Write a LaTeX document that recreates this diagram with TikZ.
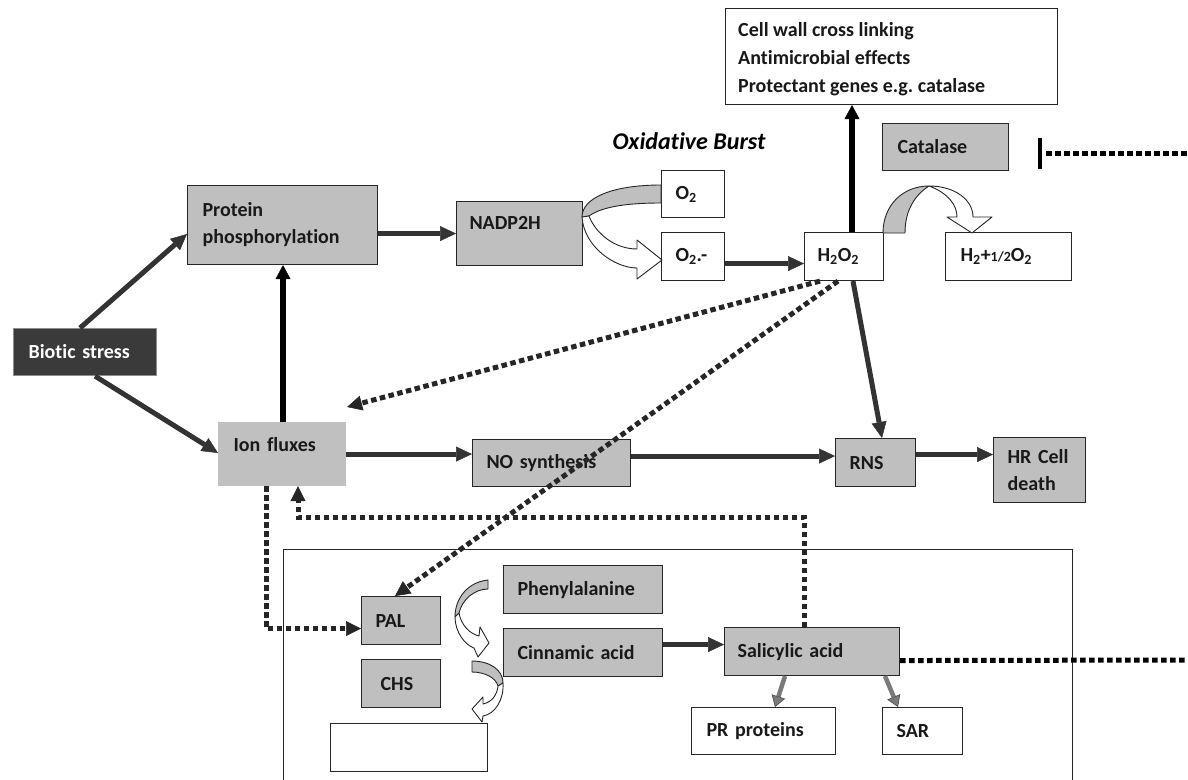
\documentclass[tikz,border=0pt]{standalone}
\usepackage{fontspec}
\setmainfont{Carlito}[Ligatures=NoCommon]
\usetikzlibrary{arrows.meta,calc}
\definecolor{boxgray}{HTML}{BFBFBF}
\definecolor{iongray}{HTML}{C0C0C0}
\definecolor{biodark}{HTML}{3A3A3A}
\definecolor{arrdark}{HTML}{333333}
\definecolor{dotdark}{HTML}{262626}
\definecolor{sagray}{HTML}{7A7A7A}
\newcommand\lblfont{\fontsize{20}{27}\selectfont\bfseries\frenchspacing}
\begin{document}
\begin{tikzpicture}[x=1pt,y=-1pt,
  bx/.style={draw=black!85, line width=1.1pt, anchor=north west, inner xsep=14pt,
    inner ysep=0pt, align=left, font=\lblfont, text=black!90},
  gbx/.style={bx, fill=boxgray},
  wbx/.style={bx, fill=white},
  sz/.style n args={3}{minimum width=#1pt, minimum height=#2pt, text width=#3pt},
  darr/.style={draw=arrdark, line width=5pt,
    -{Triangle[length=16pt,width=15pt,line width=0.5pt]}},
  karr/.style={draw=black, line width=5.5pt,
    -{Triangle[length=14pt,width=15pt,line width=0.5pt]}},
  garr/.style={draw=sagray, line width=4.5pt,
    -{Triangle[length=11pt,width=14pt,line width=0.6pt,fill=sagray,color=black!70]}},
  dots/.style={draw=dotdark, line width=5pt, dash pattern=on 5.5pt off 3.5pt},
  dotsarr/.style={dots, -{Triangle[length=15pt,width=15pt,line width=0.5pt]}},
  ribbon/.style={draw=black!85, line width=0.9pt, line join=round},
]
\useasboundingbox (0,0) rectangle (1188,779);

% frame around the salicylic acid pathway
\node[wbx, line width=0.8pt, sz={789}{260}{761}] (sabox) at (283,549) {};

% boxes
\node[wbx, sz={332}{96}{306}, inner xsep=13pt] (effects) at (725,8) {};
\node[anchor=west, align=left, inner sep=0pt, text=black!90,
      font=\fontsize{20}{28}\selectfont\bfseries\frenchspacing] (effectstext)
  at ([xshift=13pt,yshift=-3pt]effects.west)
  {Cell wall cross linking\\Antimicrobial effects\\Protectant genes e.g. catalase};
\node[font=\fontsize{24}{28}\selectfont\bfseries\itshape] (burst) at (689,141) {Oxidative Burst};
\node[gbx, sz={126}{47}{96}, inner xsep=15pt] (catalase) at (882,123) {Catalase};
\node[gbx, sz={190}{79}{160}, inner xsep=15pt] (prot) at (187,185) {Protein\\phosphorylation};
\node[gbx, sz={126}{64}{100}, inner xsep=13pt] (nadp) at (456,201) {NADP2H\\[-5pt]\mbox{}};
\node[wbx, sz={63}{47}{35}] (o2) at (661,170) {O\textsubscript{2}};
\node[wbx, sz={63}{48}{35}] (o2m) at (661,232) {O\textsubscript{2}.-};
\node[wbx, sz={79}{48}{53}, inner xsep=13pt] (h2o2) at (804,232) {H\textsubscript{2}O\textsubscript{2}};
\node[wbx, sz={126}{48}{96}, inner xsep=15pt] (h2) at (945,232)
  {H\textsubscript{2}+{\fontsize{14}{14}\selectfont 1/2}O\textsubscript{2}};
\node[bx, fill=biodark, draw=black!45, text=white, sz={143}{47}{113}, inner xsep=15pt] (bio) at (13,328) {Biotic stress};
\node[bx, fill=iongray, draw=iongray, sz={127}{63}{97}, inner xsep=15pt] (ion) at (218,422) {Ion fluxes\\[-8pt]\mbox{}};
\node[gbx, sz={158}{47}{130}] (nos) at (472,439) {NO synthesis};
\node[gbx, sz={80}{48}{52}] (rns) at (835,438) {RNS};
\node[gbx, sz={92}{65}{64}] (hr) at (993,437) {\mbox{HR Cell}\\death};
\node[gbx, sz={79}{48}{51}] (pal) at (361,596) {PAL};
\node[gbx, sz={79}{48}{41}, inner xsep=19pt] (chs) at (361,659) {CHS};
\node[wbx, sz={157}{48}{129}] (blank) at (330,723) {};
\node[gbx, sz={159}{48}{131}] (phe) at (503,565) {Phenylalanine};
\node[gbx, sz={159}{48}{131}] (cin) at (503,628) {Cinnamic acid};
\node[gbx, sz={175}{48}{149}, inner xsep=13pt] (sal) at (724,627) {Salicylic acid};
\node[wbx, sz={144}{47}{114}, inner xsep=15pt] (pr) at (691,707) {PR proteins};
\node[wbx, sz={80}{47}{52}] (sar) at (882,707) {SAR};

% curved ribbon: NADP2H turning O2 into O2.-
\path[ribbon, fill=boxgray] (661,185) .. controls (612,185) and (582,198) .. (582,217)
  -- (589,216) .. controls (603,206) and (630,203) .. (661,203) -- cycle;
\path[ribbon, fill=white] (582,217) .. controls (584,247) and (615,268) .. (637,268)
  -- (637,279) -- (662,260) -- (637,240) -- (637,249)
  .. controls (615,249) and (596,234) .. (589,216) -- cycle;

% curved ribbon: catalase turning H2O2 into H2 + 1/2 O2
\path[ribbon, fill=boxgray] (883,233) .. controls (883,205) and (903,186) .. (929,186)
  .. controls (915,195) and (905,210) .. (905,233) -- cycle;
\path[ribbon, fill=white] (929,186) .. controls (955,186) and (973,200) .. (973,217)
  -- (992,217) -- (972,233) -- (947,217) -- (957,217)
  .. controls (957,205) and (948,193) .. (929,186) -- cycle;

% curved ribbon: phenylalanine to cinnamic acid
\path[ribbon, fill=boxgray] (488,580) .. controls (468,582) and (455,598) .. (455,617)
  -- (459,613) .. controls (462,600) and (474,589) .. (488,589) -- cycle;
\path[ribbon, fill=white] (455,617) .. controls (455,632) and (465,645) .. (474,648)
  -- (478,657) -- (489,643) -- (480,627) -- (479,636)
  .. controls (470,634) and (461,625) .. (459,613) -- cycle;

% curved ribbon: cinnamic acid onwards
\path[ribbon, fill=boxgray] (472,661) .. controls (490,661) and (503,670) .. (503,683)
  -- (498,686) .. controls (496,678) and (485,672) .. (472,672) -- cycle;
\path[ribbon, fill=white] (503,683) .. controls (504,700) and (495,714) .. (483,716)
  -- (482,722) -- (472,709) -- (483,697) -- (483,704)
  .. controls (492,702) and (497,695) .. (498,686) -- cycle;

% solid connectors
\coordinate (ionup) at ([xshift=65pt]ion.north west);
\coordinate (h2up) at ([xshift=48pt]h2o2.north west);
\coordinate (o2mout) at ([yshift=-7pt]o2m.east);
\coordinate (noout) at ([yshift=7pt]nos.east);
\coordinate (rnsout) at ([yshift=8pt]rns.east);
\coordinate (cinout) at ([yshift=8pt]cin.east);

\draw[darr] ([xshift=67pt]bio.north west) -- ([yshift=-49pt]prot.north west);
\draw[darr] ([xshift=82pt]bio.south west) -- ([yshift=-31pt]ion.north west);
\draw[karr] (ionup) -- (ionup |- prot.south);
\draw[darr] (prot.east |- nadp.west) -- (nadp.west);
\draw[darr] (o2mout) -- (o2mout -| h2o2.west);
\draw[karr, line width=6.5pt] (h2up) -- (h2up |- effects.south);
\draw[darr] ([xshift=49pt]h2o2.south west) -- ([xshift=47pt]rns.north west);
\draw[darr] (ion.east) -- (ion.east -| nos.west);
\draw[darr] (noout) -- (noout -| rns.west);
\draw[darr] (rnsout) -- (rnsout -| hr.west);
\draw[darr] (cinout) -- (cinout -| sal.west);
\draw[garr] ([xshift=61pt]sal.south west) -- ([xshift=84pt]pr.north west);
\draw[garr] ([xshift=161pt]sal.south west) -- ([xshift=16pt]sar.north west);

% catalase inhibition
\coordinate (barTop) at (1040,138);
\coordinate (barBot) at (1040,169);
\coordinate (inhL) at (1046,153);
\coordinate (inhR) at (1188,153);
\draw[line width=4.5pt, draw=black] (barTop) -- (barBot);
\draw[dots, draw=black] (inhL) -- (inhR);

% dotted signalling connectors
\coordinate (ionne) at ([xshift=1pt,yshift=15pt]ion.north east);
\coordinate (ionbl) at ([xshift=48pt]ion.south west);
\coordinate (ionbr) at ([xshift=80pt]ion.south west);
\coordinate (palin) at ([yshift=-8pt]pal.west);
\coordinate (saltop) at ([xshift=80pt]sal.north west);
\coordinate (fbk) at (0,517);
\coordinate (salout) at ([yshift=-9pt]sal.east);
\coordinate (salend) at (1188,660);

\draw[dotsarr] ([xshift=16pt]h2o2.south west) -- (ionne);
\draw[dotsarr] ([xshift=34pt]h2o2.south west) -- ([xshift=34pt]pal.north west);
\draw[dotsarr] (ionbl) |- (palin);
\draw[dotsarr] (saltop) -- (saltop |- fbk) -| (ionbr);
\draw[dots, draw=black] (salout) -- (salend);
\end{tikzpicture}
\end{document}
